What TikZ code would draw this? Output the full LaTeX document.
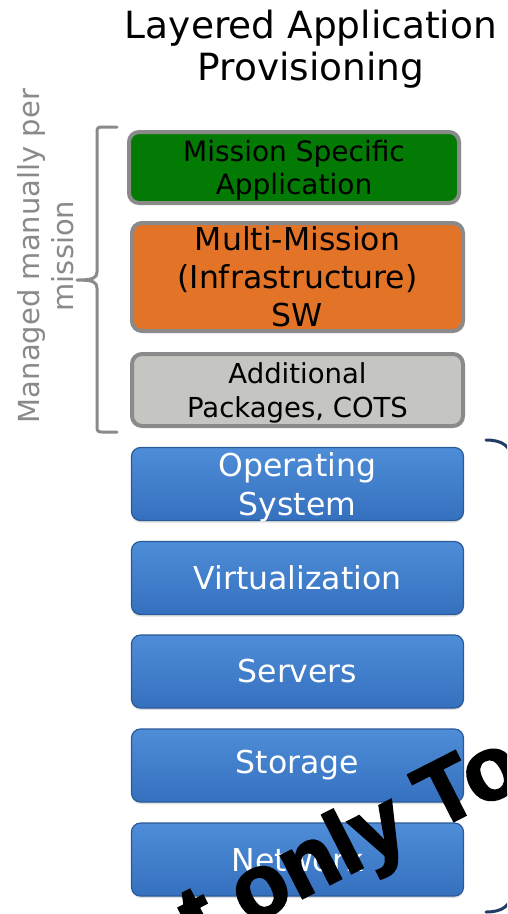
\documentclass[tikz,border=0pt]{standalone}
\usepackage{fontspec}
\setmainfont{DejaVu Sans}
\newfontfamily\markfont{Liberation Sans}[BoldFeatures={FakeBold=2.5}]
\usetikzlibrary{shadows}

\definecolor{appgreen}{HTML}{037A03}
\definecolor{apporange}{HTML}{E27327}
\definecolor{pkggray}{HTML}{C5C5C1}
\definecolor{framegray}{HTML}{8A8A8A}
\definecolor{bluetop}{HTML}{4E8DD8}
\definecolor{bluebot}{HTML}{3570BE}
\definecolor{blueedge}{HTML}{2B5A99}
\definecolor{navy}{HTML}{1F3B66}

\tikzset{
  layerbox/.style={draw=framegray, line width=4pt, rounded corners=10pt,
    minimum width=331pt, align=center, inner sep=0pt, text=black},
  infrabox/.style={draw=blueedge, line width=1.2pt, rounded corners=9pt,
    top color=bluetop, bottom color=bluebot,
    minimum width=332pt, minimum height=73pt, align=center, inner sep=0pt,
    text=white, font=\fontsize{31.5}{39}\selectfont,
    drop shadow={shadow xshift=0pt, shadow yshift=-2pt, opacity=0.25}},
  bracket/.style={line width=3pt, line cap=round, line join=round}
}

\begin{document}
\begin{tikzpicture}[x=1pt, y=-1pt]
\useasboundingbox (0,0) rectangle (507,914);
\clip (0,0) rectangle (507,914);
\fill[white] (0,0) rectangle (507,914);

% heading
\node[align=center, font=\fontsize{37.5}{42}\selectfont] (title) at (311,49)
  {Layered Application\\Provisioning};

% application layers managed per mission
\node[layerbox, fill=appgreen, minimum width=330pt, minimum height=71pt,
      text depth=0pt, font=\fontsize{28}{33}\selectfont] (msa) at (294,167.5)
  {Mission Specific\\Application};
\node[layerbox, fill=apporange, minimum height=108pt,
      font=\fontsize{31.5}{38}\selectfont] (mm) at (297.5,277)
  {Multi-Mission\\(Infrastructure)\\SW};
\node[layerbox, fill=pkggray, minimum height=72pt, text depth=0pt,
      font=\fontsize{27.5}{34}\selectfont] (pkg) at (297.5,390)
  {Additional\\Packages, COTS};

% infrastructure layers
\node[infrabox, text depth=0pt] (os) at (297.5,484) {Operating\\System};
\node[infrabox] (virt) at (297.5,578) {Virtualization};
\node[infrabox] (srv) at (297.5,671.5) {Servers};
\node[infrabox] (sto) at (297.5,765.5) {Storage};
\node[infrabox] (net) at (297.5,859.5) {Network};

% left bracket and its label
\draw[bracket, framegray]
  (117,127) -- (102,127) .. controls (98,127) and (97,128) .. (97,132)
  -- (97,272) .. controls (97,278) and (93,280) .. (77,280)
  .. controls (93,280) and (97,282) .. (97,288)
  -- (97,427) .. controls (97,431) and (98,432) .. (102,432) -- (117,432);
\node[rotate=90, align=center, text=framegray,
      font=\fontsize{29}{34}\selectfont] (label) at (46,256)
  {Managed manually per\\mission};

% right bracket around the infrastructure layers
\draw[bracket, navy]
  (486,440) .. controls (502,440) and (512,446) .. (512,462)
  -- (512,890) .. controls (512,906) and (502,912) .. (486,912);

% stamped text
\node[rotate=27, anchor=base west, inner sep=0pt,
      font=\markfont\bfseries\fontsize{90}{90}\selectfont] (stamp) at (199,951)
  {t only To};
\end{tikzpicture}
\end{document}
